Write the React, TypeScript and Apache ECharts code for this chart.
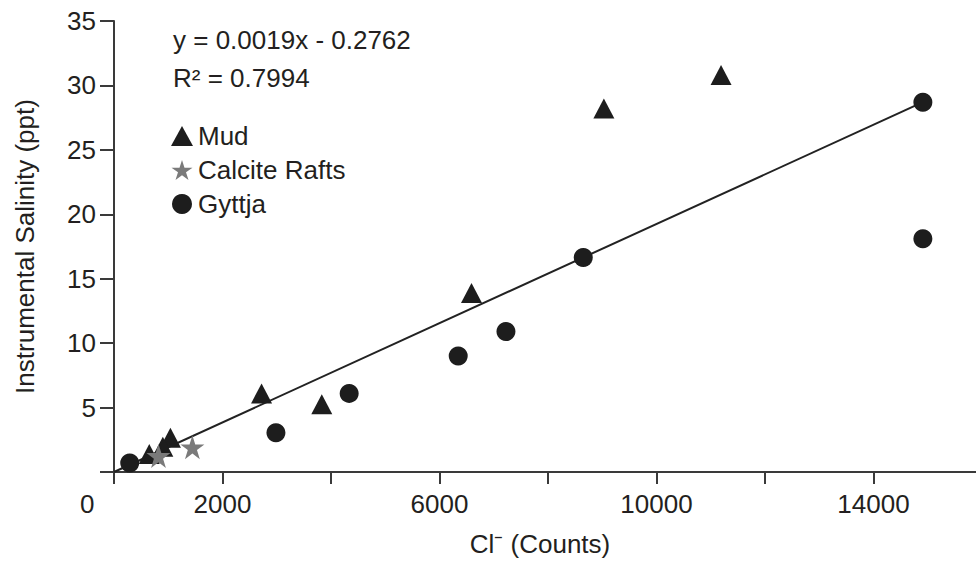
import React, { useEffect, useRef } from "react";
import * as echarts from "echarts";

// ---- data ----
const mudX = [11190, 9030, 6590, 2720, 3830, 1040, 900, 650];
const mudY = [30.8, 28.2, 13.9, 6.1, 5.25, 2.65, 1.95, 1.4];

const calciteX = [820, 1445];
const calciteY = [1.25, 1.92];

const gyttjaX = [14910, 14910, 8650, 7225, 6345, 4335, 2985, 290];
const gyttjaY = [28.7, 18.1, 16.65, 10.9, 9.0, 6.1, 3.05, 0.7];

const trendX = [0, 14910];
const trendY = [0.0, 28.7];

const xTickValues = [0, 2000, 4000, 6000, 8000, 10000, 12000, 14000, 16000];
const xTickLabels = ["", "2000", "", "6000", "", "10000", "", "14000", ""];
const xZeroLabel = "0";

const equationText = "y = 0.0019x - 0.2762";
const r2Text = "R\u00B2 = 0.7994";

const seriesNames = ["Mud", "Calcite Rafts", "Gyttja"];

const FONT = '"Liberation Sans", Arial, Helvetica, sans-serif';
const INK = "#231f20";
const FS = 26;

function zip(xs: number[], ys: number[]) {
  return xs.map((x, i) => [x, ys[i]]);
}

export default function App() {
  const ref = useRef<HTMLDivElement>(null);

  useEffect(() => {
    if (!ref.current) return;
    const chart = echarts.init(ref.current, undefined, { renderer: "svg" });

    const option: any = {
      animation: false,
      backgroundColor: "#ffffff",
      textStyle: { fontFamily: FONT },
      grid: {
        left: 114,
        top: 21,
        width: 868,
        height: 451,
        containLabel: false,
        outerBoundsMode: "none",
      },
      xAxis: {
        type: "value",
        min: 0,
        max: 16000,
        interval: 2000,
        name: "Cl\u207B (Counts)",
        nameLocation: "middle",
        nameGap: 59,
        nameTextStyle: { fontSize: FS, color: INK, fontFamily: FONT, padding: [0, 16, 0, 0] },
        axisLine: { show: true, lineStyle: { color: "#3a3a3a", width: 2 } },
        axisTick: { show: true, length: 12, inside: false, lineStyle: { color: "#3a3a3a", width: 2 } },
        axisLabel: {
          fontSize: FS,
          color: INK,
          fontFamily: FONT,
          margin: 19,
          formatter: (v: number) => {
            const i = xTickValues.indexOf(v);
            return i >= 0 ? xTickLabels[i] : "";
          },
        },
        splitLine: { show: false },
      },
      yAxis: {
        type: "value",
        min: 0,
        max: 35,
        interval: 5,
        name: "Instrumental Salinity (ppt)",
        nameLocation: "middle",
        nameGap: 76,
        nameTextStyle: { fontSize: FS, color: INK, fontFamily: FONT },
        axisLine: { show: true, lineStyle: { color: "#3a3a3a", width: 2 } },
        axisTick: { show: true, length: 14, inside: false, lineStyle: { color: "#3a3a3a", width: 2 } },
        axisLabel: {
          fontSize: FS,
          color: INK,
          fontFamily: FONT,
          margin: 18,
          formatter: (v: number) => (v === 0 ? "" : String(v)),
        },
        splitLine: { show: false },
      },
      legend: {
        orient: "vertical",
        left: 166,
        top: 118,
        itemWidth: 22,
        itemHeight: 20,
        itemGap: 8,
        data: seriesNames,
        textStyle: { fontSize: FS, color: INK, fontFamily: FONT },
      },
      graphic: [
        {
          type: "text",
          left: 173,
          top: 27,
          style: { text: equationText, font: `${FS}px ${FONT}`, fill: INK },
        },
        {
          type: "text",
          left: 173,
          top: 65,
          style: { text: r2Text, font: `${FS}px ${FONT}`, fill: INK },
        },
        {
          type: "text",
          left: 80,
          top: 491,
          style: { text: xZeroLabel, font: `${FS}px ${FONT}`, fill: INK },
        },
      ],
      series: [
        {
          type: "line",
          name: "trend",
          data: zip(trendX, trendY),
          symbol: "none",
          lineStyle: { color: "#222222", width: 2 },
          z: 1,
          silent: true,
        },
        {
          type: "scatter",
          name: seriesNames[0],
          data: zip(mudX, mudY),
          symbol: "triangle",
          symbolSize: [21, 20],
          itemStyle: { color: "#1d1d1d", opacity: 1 },
          z: 2,
        },
        {
          type: "scatter",
          name: seriesNames[1],
          data: zip(calciteX, calciteY),
          symbol:
            "path://M12,0 L14.8,8.6 L23.8,8.6 L16.5,13.9 L19.3,22.5 L12,17.2 L4.7,22.5 L7.5,13.9 L0.2,8.6 L9.2,8.6 Z",
          symbolSize: 24,
          itemStyle: { color: "#7a7a7a", opacity: 1 },
          z: 3,
        },
        {
          type: "scatter",
          name: seriesNames[2],
          data: zip(gyttjaX, gyttjaY),
          symbol: "circle",
          symbolSize: 19,
          itemStyle: { color: "#1d1d1d", opacity: 1 },
          z: 2,
        },
      ],
    };

    chart.setOption(option);
    return () => chart.dispose();
  }, []);

  return (
    <div
      ref={ref}
      style={{ position: "absolute", left: 0, top: 0, width: 976, height: 562 }}
    />
  );
}
